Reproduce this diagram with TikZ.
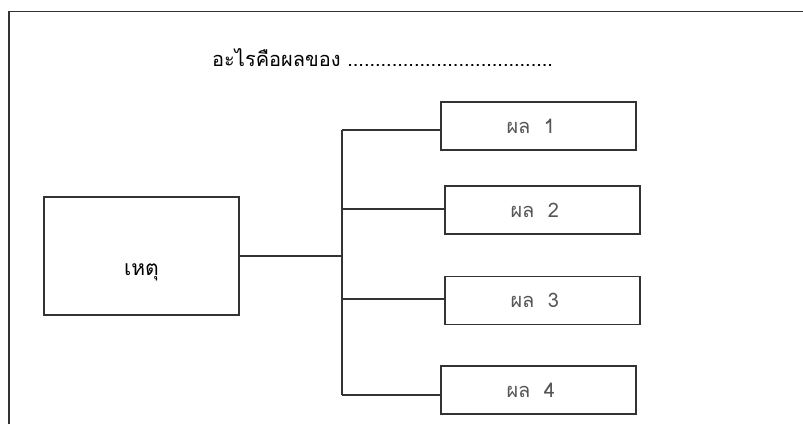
\documentclass[tikz,border=0pt]{standalone}
\usepackage{fontspec}
\usepackage{tikz}
\newfontfamily\thaifont[Script=Thai]{Loma}
\definecolor{labelgray}{HTML}{555555}
\definecolor{linegray}{HTML}{333333}

\begin{document}
\begin{tikzpicture}[x=1pt,y=-1pt,
	cause/.style={shape=rectangle,draw=linegray,line width=1.3pt,minimum width=195pt,minimum height=118pt},
	result/.style={shape=rectangle,draw=linegray,line width=1.3pt,minimum width=195pt,minimum height=48pt,
		text width=64pt,align=left,inner sep=0pt,text=labelgray,font=\thaifont\fontsize{20}{24}\selectfont}]
	\useasboundingbox (0,0) rectangle (803,424);

	% frame
	\draw[linegray,line width=1.5pt] (9,424) -- (9,11.5) -- (803,11.5);

	\node[anchor=base west,inner sep=0pt,font=\thaifont\fontsize{20}{24}\selectfont] (title) at (212, 66)
		{อะไรคือผลของ .....................................};

	\node[cause,label={[yshift=-16pt,font=\thaifont\fontsize{21}{24}\selectfont]center:เหตุ}] (c) at (141.5, 256) {};

	\node[result] (r1) at (538.5, 126)   {ผล\ \ 1};
	\node[result] (r2) at (542.5, 210)   {ผล\ \ 2};
	\node[result] (r3) at (542.5, 300.5) {ผล\ \ 3};
	\node[result] (r4) at (538.5, 390)   {ผล\ \ 4};

	\coordinate (t0) at (342, 256);
	\coordinate (t1) at (342, 130);
	\coordinate (t2) at (342, 209);
	\coordinate (t3) at (342, 299);
	\coordinate (t4) at (342, 395);

	\path[-,draw=linegray,line width=1.3pt] (c.east) edge (t0);
	\path[-,draw=linegray,line width=1.3pt] (t1) edge (t4);
	\path[-,draw=linegray,line width=1.3pt] (t1) edge (t1 -| r1.west);
	\path[-,draw=linegray,line width=1.3pt] (t2) edge (t2 -| r2.west);
	\path[-,draw=linegray,line width=1.3pt] (t3) edge (t3 -| r3.west);
	\path[-,draw=linegray,line width=1.3pt] (t4) edge (t4 -| r4.west);

\end{tikzpicture}
\end{document}
